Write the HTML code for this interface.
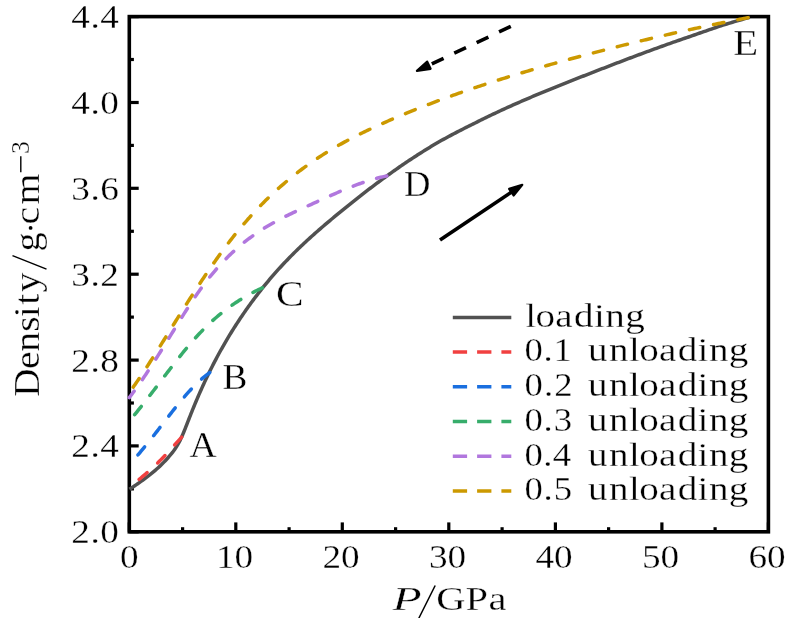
<!DOCTYPE html>
<html><head><meta charset="utf-8"><title>Density vs P</title>
<style>
html,body{margin:0;padding:0;background:#fff;}
body{width:786px;height:618px;overflow:hidden;}
svg{display:block;will-change:transform;}
text{font-family:"Liberation Serif",serif;fill:#000;stroke:#fff;stroke-width:0.3px;}
</style></head><body>
<svg width="786" height="618" viewBox="0 0 786 618">
<rect x="0" y="0" width="786" height="618" fill="#ffffff"/>
<g id="axes" stroke="#000" stroke-width="3.6" fill="none">
<rect x="129.3" y="16.6" width="639.1" height="515.2"/>
<line x1="129.3" y1="531.8" x2="138.7" y2="531.8" stroke-width="3.2"/>
<line x1="129.3" y1="488.9" x2="133.9" y2="488.9" stroke-width="3.2"/>
<line x1="129.3" y1="445.9" x2="138.7" y2="445.9" stroke-width="3.2"/>
<line x1="129.3" y1="403.0" x2="133.9" y2="403.0" stroke-width="3.2"/>
<line x1="129.3" y1="360.1" x2="138.7" y2="360.1" stroke-width="3.2"/>
<line x1="129.3" y1="317.1" x2="133.9" y2="317.1" stroke-width="3.2"/>
<line x1="129.3" y1="274.2" x2="138.7" y2="274.2" stroke-width="3.2"/>
<line x1="129.3" y1="231.3" x2="133.9" y2="231.3" stroke-width="3.2"/>
<line x1="129.3" y1="188.3" x2="138.7" y2="188.3" stroke-width="3.2"/>
<line x1="129.3" y1="145.4" x2="133.9" y2="145.4" stroke-width="3.2"/>
<line x1="129.3" y1="102.5" x2="138.7" y2="102.5" stroke-width="3.2"/>
<line x1="129.3" y1="59.5" x2="133.9" y2="59.5" stroke-width="3.2"/>
<line x1="129.3" y1="16.6" x2="138.7" y2="16.6" stroke-width="3.2"/>
<line x1="129.3" y1="531.8" x2="129.3" y2="522.4" stroke-width="3.2"/>
<line x1="182.6" y1="531.8" x2="182.6" y2="527.2" stroke-width="3.2"/>
<line x1="235.8" y1="531.8" x2="235.8" y2="522.4" stroke-width="3.2"/>
<line x1="289.1" y1="531.8" x2="289.1" y2="527.2" stroke-width="3.2"/>
<line x1="342.3" y1="531.8" x2="342.3" y2="522.4" stroke-width="3.2"/>
<line x1="395.6" y1="531.8" x2="395.6" y2="527.2" stroke-width="3.2"/>
<line x1="448.8" y1="531.8" x2="448.8" y2="522.4" stroke-width="3.2"/>
<line x1="502.1" y1="531.8" x2="502.1" y2="527.2" stroke-width="3.2"/>
<line x1="555.4" y1="531.8" x2="555.4" y2="522.4" stroke-width="3.2"/>
<line x1="608.6" y1="531.8" x2="608.6" y2="527.2" stroke-width="3.2"/>
<line x1="661.9" y1="531.8" x2="661.9" y2="522.4" stroke-width="3.2"/>
<line x1="715.1" y1="531.8" x2="715.1" y2="527.2" stroke-width="3.2"/>
<line x1="768.4" y1="531.8" x2="768.4" y2="522.4" stroke-width="3.2"/>
</g>
<g id="curves">
<path d="M129.40,489.30 L131.07,488.19 L132.73,487.08 L134.40,485.96 L136.05,484.84 L137.71,483.71 L139.36,482.58 L141.00,481.43 L142.63,480.27 L144.25,479.10 L145.86,477.91 L147.46,476.70 L149.05,475.48 L150.61,474.23 L152.17,472.97 L153.71,471.69 L155.23,470.38 L156.73,469.06 L158.21,467.71 L159.67,466.35 L161.12,464.96 L162.54,463.55 L163.94,462.12 L165.32,460.67 L166.69,459.20 L168.02,457.72 L169.34,456.21 L170.64,454.68 L171.90,453.13 L173.13,451.55 L174.32,449.94 L175.46,448.29 L176.55,446.61 L177.59,444.90 L178.58,443.16 L179.53,441.40 L180.44,439.61 L181.30,437.81 L182.12,435.98 L182.92,434.14 L183.70,432.30 L184.45,430.45 L185.20,428.59 L185.93,426.72 L186.66,424.86 L187.38,422.99 L188.10,421.12 L188.83,419.26 L189.55,417.39 L190.29,415.53 L191.02,413.67 L191.77,411.81 L192.52,409.95 L193.27,408.09 L194.03,406.24 L194.80,404.39 L195.57,402.54 L196.34,400.70 L197.13,398.86 L197.92,397.02 L198.71,395.18 L199.51,393.34 L200.32,391.51 L201.14,389.68 L201.96,387.86 L202.78,386.03 L203.62,384.21 L204.46,382.39 L205.30,380.58 L206.16,378.77 L207.02,376.96 L207.89,375.16 L208.76,373.35 L209.64,371.56 L210.53,369.76 L211.42,367.97 L212.33,366.18 L213.24,364.40 L214.15,362.62 L215.08,360.84 L216.01,359.07 L216.95,357.30 L217.90,355.54 L218.85,353.78 L219.81,352.02 L220.78,350.27 L221.76,348.52 L222.74,346.78 L223.74,345.04 L224.74,343.31 L225.74,341.58 L226.76,339.85 L227.78,338.13 L228.81,336.41 L229.85,334.70 L230.90,332.99 L231.95,331.29 L233.01,329.59 L234.08,327.90 L235.16,326.21 L236.24,324.53 L237.34,322.85 L238.43,321.18 L239.54,319.51 L240.65,317.84 L241.77,316.18 L242.90,314.53 L244.04,312.88 L245.18,311.23 L246.33,309.59 L247.48,307.96 L248.64,306.33 L249.82,304.71 L250.99,303.09 L252.18,301.47 L253.37,299.86 L254.57,298.26 L255.78,296.66 L257.00,295.07 L258.22,293.49 L259.45,291.91 L260.69,290.33 L261.93,288.77 L263.18,287.20 L264.44,285.65 L265.71,284.10 L266.99,282.55 L268.27,281.02 L269.56,279.49 L270.86,277.96 L272.16,276.44 L273.48,274.93 L274.79,273.42 L276.12,271.93 L277.46,270.43 L278.80,268.95 L280.15,267.47 L281.50,265.99 L282.87,264.53 L284.24,263.07 L285.61,261.61 L287.00,260.17 L288.39,258.73 L289.79,257.29 L291.19,255.87 L292.60,254.44 L294.02,253.03 L295.44,251.62 L296.87,250.22 L298.31,248.83 L299.75,247.44 L301.20,246.05 L302.65,244.68 L304.11,243.31 L305.58,241.94 L307.05,240.58 L308.52,239.23 L310.00,237.88 L311.49,236.54 L312.98,235.20 L314.47,233.87 L315.97,232.54 L317.48,231.22 L318.99,229.90 L320.50,228.59 L322.01,227.28 L323.53,225.98 L325.06,224.68 L326.58,223.38 L328.11,222.09 L329.64,220.80 L331.18,219.52 L332.72,218.23 L334.26,216.95 L335.80,215.68 L337.34,214.40 L338.89,213.13 L340.44,211.86 L341.99,210.59 L343.54,209.33 L345.09,208.06 L346.65,206.80 L348.21,205.55 L349.77,204.29 L351.33,203.04 L352.90,201.79 L354.46,200.55 L356.03,199.30 L357.60,198.06 L359.18,196.82 L360.76,195.59 L362.33,194.36 L363.92,193.13 L365.50,191.91 L367.09,190.69 L368.68,189.47 L370.27,188.25 L371.86,187.04 L373.46,185.84 L375.06,184.63 L376.66,183.43 L378.27,182.24 L379.88,181.04 L381.49,179.85 L383.10,178.67 L384.72,177.49 L386.34,176.31 L387.96,175.14 L389.59,173.97 L391.22,172.81 L392.85,171.65 L394.49,170.49 L396.12,169.34 L397.77,168.20 L399.41,167.05 L401.06,165.92 L402.71,164.79 L404.37,163.66 L406.02,162.54 L407.69,161.42 L409.35,160.31 L411.02,159.20 L412.69,158.10 L414.37,157.01 L416.05,155.92 L417.73,154.83 L419.42,153.75 L421.11,152.68 L422.80,151.61 L424.50,150.55 L426.20,149.50 L427.91,148.45 L429.62,147.40 L431.33,146.36 L433.04,145.34 L434.76,144.32 L436.48,143.31 L438.21,142.32 L439.93,141.33 L441.67,140.35 L443.40,139.38 L445.14,138.42 L446.88,137.47 L448.62,136.53 L450.37,135.60 L452.12,134.67 L453.87,133.75 L455.63,132.83 L457.38,131.92 L459.14,131.01 L460.91,130.11 L462.68,129.21 L464.44,128.31 L466.22,127.42 L467.99,126.52 L469.77,125.63 L471.55,124.74 L473.33,123.85 L475.12,122.96 L476.90,122.07 L478.69,121.18 L480.48,120.29 L482.28,119.40 L484.08,118.52 L485.88,117.64 L487.68,116.76 L489.48,115.89 L491.29,115.03 L493.09,114.17 L494.90,113.31 L496.71,112.46 L498.53,111.61 L500.34,110.77 L502.16,109.93 L503.98,109.09 L505.80,108.26 L507.63,107.43 L509.45,106.61 L511.28,105.79 L513.11,104.97 L514.94,104.16 L516.77,103.35 L518.60,102.54 L520.43,101.74 L522.27,100.94 L524.11,100.15 L525.95,99.35 L527.79,98.56 L529.63,97.78 L531.47,97.00 L533.32,96.22 L535.16,95.44 L537.01,94.67 L538.86,93.89 L540.70,93.13 L542.55,92.36 L544.41,91.60 L546.26,90.83 L548.11,90.08 L549.96,89.32 L551.82,88.57 L553.67,87.81 L555.53,87.06 L557.39,86.32 L559.25,85.57 L561.11,84.82 L562.96,84.08 L564.83,83.34 L566.69,82.60 L568.55,81.86 L570.41,81.13 L572.27,80.39 L574.13,79.66 L576.00,78.92 L577.86,78.19 L579.72,77.46 L581.59,76.73 L583.45,76.00 L585.32,75.27 L587.18,74.54 L589.05,73.82 L590.91,73.09 L592.78,72.36 L594.65,71.64 L596.51,70.91 L598.38,70.19 L600.25,69.46 L602.11,68.74 L603.98,68.02 L605.85,67.29 L607.72,66.57 L609.58,65.85 L611.45,65.14 L613.32,64.42 L615.19,63.70 L617.06,62.98 L618.93,62.27 L620.80,61.56 L622.67,60.84 L624.55,60.13 L626.42,59.42 L628.29,58.71 L630.16,58.01 L632.04,57.30 L633.91,56.60 L635.79,55.89 L637.66,55.19 L639.54,54.49 L641.42,53.79 L643.29,53.10 L645.17,52.40 L647.05,51.71 L648.93,51.02 L650.81,50.33 L652.69,49.64 L654.57,48.96 L656.45,48.27 L658.33,47.59 L660.22,46.91 L662.10,46.23 L663.99,45.56 L665.87,44.89 L667.76,44.21 L669.65,43.55 L671.53,42.88 L673.42,42.22 L675.31,41.55 L677.20,40.90 L679.10,40.24 L680.99,39.58 L682.88,38.93 L684.78,38.28 L686.67,37.64 L688.57,36.98 L690.46,36.33 L692.36,35.67 L694.26,35.01 L696.16,34.35 L698.06,33.69 L699.96,33.02 L701.87,32.36 L703.77,31.69 L705.68,31.03 L707.58,30.36 L709.49,29.70 L711.40,29.05 L713.31,28.39 L715.22,27.74 L717.13,27.10 L719.04,26.46 L720.96,25.83 L722.87,25.21 L724.79,24.59 L726.70,23.99 L728.62,23.39 L730.54,22.81 L732.46,22.23 L734.38,21.66 L736.31,21.10 L738.23,20.55 L740.16,20.00 L742.08,19.45 L744.01,18.91 L745.94,18.37 L747.87,17.84 L749.80,17.31" fill="none" stroke="#515151" stroke-width="3.5" stroke-linejoin="round" stroke-linecap="butt"/>
<path d="M182.90,435.89 L181.51,437.39 L180.13,438.89 L178.74,440.39 L177.36,441.89 L175.99,443.40 L174.61,444.91 L173.24,446.42 L171.88,447.94 L170.51,449.45 L169.15,450.98 L167.78,452.49 L166.40,454.00 L165.01,455.49 L163.61,456.97 L162.20,458.44 L160.77,459.90 L159.33,461.35 L157.88,462.79 L156.41,464.21 L154.93,465.61 L153.44,467.01 L151.94,468.39 L150.42,469.75 L148.89,471.11 L147.36,472.45 L145.81,473.79 L144.26,475.11 L142.70,476.43 L141.13,477.73 L139.55,479.02 L137.96,480.30 L136.36,481.57 L134.75,482.82 L133.13,484.07 L131.50,485.30" fill="none" stroke="#F14040" stroke-width="3.5" stroke-linejoin="round" stroke-dasharray="10.5 14.30" stroke-dashoffset="-1.75" stroke-linecap="round"/>
<path d="M211.30,371.59 L209.63,372.71 L207.99,373.88 L206.38,375.08 L204.80,376.33 L203.25,377.61 L201.72,378.92 L200.22,380.25 L198.74,381.61 L197.28,383.00 L195.85,384.40 L194.43,385.83 L193.02,387.27 L191.64,388.73 L190.27,390.20 L188.91,391.68 L187.56,393.17 L186.23,394.68 L184.91,396.20 L183.60,397.72 L182.30,399.26 L181.01,400.80 L179.72,402.34 L178.45,403.90 L177.18,405.46 L175.92,407.02 L174.66,408.59 L173.41,410.17 L172.16,411.75 L170.92,413.33 L169.68,414.91 L168.45,416.50 L167.21,418.09 L165.98,419.68 L164.75,421.27 L163.52,422.86 L162.30,424.45 L161.07,426.05 L159.84,427.64 L158.61,429.23 L157.38,430.82 L156.15,432.41 L154.92,434.00 L153.68,435.58 L152.44,437.17 L151.20,438.75 L149.95,440.32 L148.70,441.90 L147.44,443.47 L146.18,445.03 L144.91,446.59 L143.63,448.14 L142.34,449.69 L141.05,451.23 L139.75,452.76 L138.43,454.28 L137.11,455.80 L135.77,457.30 L134.43,458.79 L133.07,460.27 L131.69,461.74 L130.30,463.19" fill="none" stroke="#1A6FDF" stroke-width="3.5" stroke-linejoin="round" stroke-dasharray="10.5 14.30" stroke-dashoffset="-1.75" stroke-linecap="round"/>
<path d="M264.00,287.10 L262.18,287.93 L260.37,288.78 L258.56,289.65 L256.76,290.53 L254.97,291.43 L253.20,292.35 L251.42,293.29 L249.66,294.24 L247.91,295.21 L246.17,296.20 L244.44,297.21 L242.72,298.23 L241.01,299.27 L239.32,300.33 L237.63,301.41 L235.95,302.51 L234.29,303.62 L232.64,304.75 L231.00,305.90 L229.37,307.07 L227.75,308.25 L226.15,309.45 L224.56,310.66 L222.98,311.89 L221.41,313.14 L219.86,314.40 L218.32,315.68 L216.79,316.97 L215.27,318.28 L213.77,319.61 L212.28,320.94 L210.80,322.29 L209.33,323.66 L207.88,325.04 L206.44,326.43 L205.02,327.83 L203.60,329.25 L202.20,330.68 L200.81,332.12 L199.43,333.57 L198.06,335.04 L196.71,336.51 L195.37,337.99 L194.03,339.49 L192.71,340.99 L191.39,342.50 L190.09,344.02 L188.79,345.54 L187.50,347.07 L186.22,348.61 L184.94,350.16 L183.67,351.70 L182.41,353.26 L181.15,354.82 L179.90,356.38 L178.65,357.94 L177.41,359.51 L176.17,361.09 L174.94,362.66 L173.71,364.24 L172.48,365.82 L171.25,367.41 L170.03,368.99 L168.81,370.58 L167.60,372.17 L166.38,373.76 L165.17,375.35 L163.95,376.95 L162.74,378.54 L161.53,380.13 L160.32,381.73 L159.11,383.32 L157.89,384.92 L156.68,386.51 L155.47,388.10 L154.26,389.70 L153.04,391.29 L151.83,392.88 L150.61,394.47 L149.39,396.05 L148.16,397.64 L146.94,399.22 L145.71,400.80 L144.48,402.38 L143.24,403.96 L142.00,405.53 L140.76,407.10 L139.51,408.66 L138.25,410.22 L136.99,411.78 L135.73,413.33 L134.46,414.88 L133.18,416.42 L131.89,417.95 L130.60,419.48 L129.30,421.01" fill="none" stroke="#37AD6B" stroke-width="3.5" stroke-linejoin="round" stroke-dasharray="10.5 14.02" stroke-dashoffset="-1.75" stroke-linecap="round"/>
<path d="M388.50,175.60 L386.53,175.99 L384.56,176.40 L382.60,176.84 L380.64,177.30 L378.69,177.79 L376.74,178.30 L374.80,178.83 L372.87,179.39 L370.94,179.96 L369.02,180.55 L367.11,181.16 L365.20,181.79 L363.29,182.44 L361.39,183.10 L359.50,183.77 L357.61,184.46 L355.72,185.17 L353.84,185.88 L351.97,186.61 L350.10,187.35 L348.23,188.10 L346.37,188.85 L344.51,189.62 L342.66,190.40 L340.80,191.18 L338.95,191.97 L337.11,192.77 L335.26,193.57 L333.42,194.38 L331.58,195.19 L329.75,196.01 L327.91,196.83 L326.08,197.65 L324.24,198.48 L322.41,199.31 L320.58,200.14 L318.75,200.97 L316.92,201.80 L315.08,202.63 L313.25,203.46 L311.42,204.29 L309.59,205.12 L307.76,205.95 L305.92,206.78 L304.09,207.61 L302.26,208.44 L300.43,209.28 L298.61,210.12 L296.78,210.97 L294.96,211.82 L293.15,212.68 L291.33,213.55 L289.52,214.43 L287.71,215.31 L285.91,216.20 L284.12,217.11 L282.32,218.02 L280.54,218.94 L278.76,219.88 L276.99,220.83 L275.22,221.79 L273.46,222.77 L271.71,223.76 L269.97,224.76 L268.23,225.78 L266.51,226.81 L264.79,227.86 L263.08,228.92 L261.39,230.00 L259.70,231.09 L258.02,232.20 L256.36,233.33 L254.70,234.47 L253.06,235.63 L251.42,236.80 L249.80,237.99 L248.19,239.20 L246.60,240.42 L245.01,241.66 L243.44,242.92 L241.88,244.19 L240.34,245.47 L238.80,246.77 L237.28,248.09 L235.78,249.42 L234.28,250.77 L232.80,252.13 L231.34,253.51 L229.88,254.89 L228.44,256.30 L227.02,257.71 L225.60,259.14 L224.20,260.59 L222.81,262.04 L221.44,263.51 L220.07,264.99 L218.72,266.48 L217.39,267.98 L216.06,269.49 L214.75,271.02 L213.45,272.55 L212.16,274.09 L210.88,275.65 L209.62,277.21 L208.36,278.78 L207.12,280.36 L205.89,281.95 L204.67,283.55 L203.46,285.16 L202.26,286.77 L201.07,288.39 L199.89,290.02 L198.72,291.66 L197.57,293.30 L196.42,294.95 L195.28,296.61 L194.15,298.27 L193.02,299.94 L191.91,301.62 L190.80,303.29 L189.69,304.97 L188.60,306.66 L187.50,308.35 L186.42,310.04 L185.33,311.73 L184.26,313.43 L183.18,315.13 L182.11,316.83 L181.04,318.54 L179.97,320.24 L178.91,321.95 L177.85,323.66 L176.79,325.37 L175.73,327.07 L174.67,328.79 L173.62,330.50 L172.56,332.21 L171.50,333.92 L170.45,335.63 L169.39,337.34 L168.33,339.05 L167.27,340.76 L166.22,342.47 L165.16,344.18 L164.09,345.89 L163.03,347.59 L161.97,349.30 L160.90,351.01 L159.83,352.71 L158.76,354.41 L157.69,356.11 L156.61,357.81 L155.53,359.51 L154.45,361.20 L153.37,362.90 L152.28,364.59 L151.19,366.28 L150.09,367.96 L148.99,369.64 L147.88,371.32 L146.77,373.00 L145.65,374.67 L144.53,376.34 L143.41,378.01 L142.27,379.67 L141.13,381.33 L139.99,382.98 L138.83,384.63 L137.67,386.27 L136.50,387.90 L135.33,389.53 L134.14,391.16 L132.95,392.78 L131.74,394.39 L130.53,395.99 L129.30,397.58" fill="none" stroke="#B177DE" stroke-width="3.5" stroke-linejoin="round" stroke-dasharray="10.5 14.08" stroke-dashoffset="-1.75" stroke-linecap="round"/>
<path d="M749.80,17.35 L747.83,17.72 L745.86,18.10 L743.89,18.48 L741.92,18.86 L739.96,19.24 L737.99,19.62 L736.02,20.01 L734.05,20.40 L732.09,20.79 L730.12,21.18 L728.15,21.57 L726.19,21.97 L724.22,22.37 L722.26,22.77 L720.29,23.17 L718.33,23.57 L716.36,23.97 L714.40,24.38 L712.44,24.79 L710.47,25.20 L708.51,25.61 L706.55,26.02 L704.59,26.44 L702.63,26.85 L700.67,27.27 L698.71,27.69 L696.74,28.12 L694.79,28.54 L692.83,28.96 L690.87,29.39 L688.91,29.82 L686.95,30.25 L684.99,30.68 L683.03,31.12 L681.08,31.55 L679.12,31.99 L677.16,32.43 L675.21,32.87 L673.25,33.31 L671.30,33.76 L669.34,34.20 L667.39,34.65 L665.43,35.10 L663.48,35.55 L661.53,36.00 L659.57,36.46 L657.62,36.91 L655.67,37.37 L653.72,37.83 L651.76,38.29 L649.81,38.75 L647.86,39.22 L645.91,39.68 L643.96,40.15 L642.01,40.62 L640.06,41.09 L638.11,41.56 L636.17,42.04 L634.22,42.51 L632.27,42.99 L630.32,43.47 L628.38,43.95 L626.43,44.43 L624.48,44.91 L622.54,45.40 L620.59,45.88 L618.65,46.37 L616.70,46.86 L614.76,47.35 L612.82,47.84 L610.87,48.34 L608.93,48.83 L606.99,49.33 L605.05,49.83 L603.10,50.33 L601.16,50.83 L599.22,51.33 L597.28,51.84 L595.34,52.35 L593.40,52.85 L591.46,53.36 L589.52,53.87 L587.58,54.39 L585.65,54.90 L583.71,55.41 L581.77,55.93 L579.83,56.45 L577.90,56.97 L575.96,57.49 L574.02,58.01 L572.09,58.54 L570.15,59.06 L568.22,59.59 L566.29,60.12 L564.35,60.65 L562.42,61.18 L560.49,61.71 L558.55,62.25 L556.62,62.79 L554.69,63.33 L552.76,63.87 L550.83,64.41 L548.90,64.95 L546.97,65.50 L545.04,66.05 L543.11,66.60 L541.19,67.15 L539.26,67.70 L537.33,68.26 L535.41,68.82 L533.48,69.38 L531.56,69.94 L529.63,70.51 L527.71,71.07 L525.79,71.64 L523.86,72.21 L521.94,72.79 L520.02,73.36 L518.10,73.94 L516.18,74.52 L514.26,75.11 L512.35,75.69 L510.43,76.28 L508.51,76.87 L506.60,77.46 L504.68,78.06 L502.77,78.66 L500.86,79.26 L498.95,79.86 L497.03,80.47 L495.12,81.08 L493.21,81.69 L491.31,82.30 L489.40,82.92 L487.49,83.54 L485.58,84.16 L483.68,84.79 L481.78,85.42 L479.87,86.05 L477.97,86.68 L476.07,87.32 L474.17,87.96 L472.27,88.60 L470.37,89.25 L468.47,89.90 L466.58,90.55 L464.68,91.21 L462.79,91.87 L460.90,92.53 L459.01,93.19 L457.11,93.86 L455.23,94.53 L453.34,95.21 L451.45,95.89 L449.56,96.57 L447.68,97.25 L445.80,97.94 L443.91,98.63 L442.03,99.32 L440.15,100.02 L438.27,100.72 L436.40,101.43 L434.52,102.14 L432.65,102.85 L430.77,103.56 L428.90,104.28 L427.03,105.00 L425.16,105.73 L423.29,106.46 L421.43,107.19 L419.56,107.93 L417.70,108.67 L415.84,109.41 L413.98,110.16 L412.12,110.91 L410.26,111.67 L408.40,112.42 L406.55,113.19 L404.70,113.95 L402.84,114.72 L400.99,115.49 L399.15,116.27 L397.30,117.05 L395.45,117.84 L393.61,118.63 L391.77,119.42 L389.93,120.21 L388.09,121.01 L386.25,121.82 L384.42,122.63 L382.58,123.44 L380.75,124.26 L378.92,125.08 L377.10,125.91 L375.27,126.74 L373.45,127.58 L371.63,128.42 L369.82,129.27 L368.00,130.13 L366.19,130.99 L364.39,131.86 L362.58,132.74 L360.78,133.62 L358.99,134.51 L357.19,135.41 L355.41,136.31 L353.62,137.23 L351.84,138.15 L350.06,139.08 L348.29,140.01 L346.52,140.96 L344.76,141.91 L343.00,142.88 L341.25,143.85 L339.50,144.83 L337.75,145.82 L336.01,146.82 L334.28,147.83 L332.55,148.84 L330.83,149.87 L329.11,150.90 L327.40,151.95 L325.70,153.00 L324.00,154.07 L322.30,155.14 L320.62,156.22 L318.93,157.32 L317.26,158.42 L315.59,159.53 L313.93,160.65 L312.27,161.79 L310.63,162.93 L308.98,164.08 L307.35,165.24 L305.72,166.41 L304.10,167.59 L302.49,168.78 L300.88,169.98 L299.28,171.19 L297.69,172.41 L296.10,173.64 L294.53,174.88 L292.96,176.12 L291.39,177.38 L289.84,178.65 L288.29,179.92 L286.75,181.20 L285.22,182.50 L283.70,183.80 L282.18,185.11 L280.67,186.43 L279.17,187.76 L277.67,189.10 L276.19,190.44 L274.71,191.80 L273.24,193.16 L271.78,194.53 L270.32,195.91 L268.87,197.30 L267.43,198.70 L266.00,200.10 L264.58,201.51 L263.16,202.93 L261.75,204.36 L260.35,205.80 L258.96,207.24 L257.58,208.69 L256.20,210.14 L254.83,211.61 L253.47,213.08 L252.11,214.56 L250.76,216.04 L249.43,217.54 L248.09,219.03 L246.77,220.54 L245.45,222.05 L244.14,223.57 L242.84,225.09 L241.54,226.63 L240.26,228.16 L238.98,229.71 L237.70,231.25 L236.44,232.81 L235.18,234.37 L233.93,235.94 L232.68,237.51 L231.44,239.09 L230.21,240.67 L228.99,242.26 L227.77,243.85 L226.56,245.45 L225.35,247.05 L224.15,248.66 L222.96,250.27 L221.77,251.88 L220.59,253.50 L219.41,255.12 L218.24,256.75 L217.07,258.38 L215.91,260.01 L214.75,261.65 L213.59,263.29 L212.44,264.93 L211.30,266.58 L210.16,268.23 L209.02,269.88 L207.89,271.53 L206.76,273.19 L205.63,274.85 L204.51,276.51 L203.39,278.17 L202.27,279.84 L201.16,281.51 L200.05,283.18 L198.94,284.85 L197.84,286.52 L196.74,288.20 L195.64,289.88 L194.55,291.56 L193.45,293.24 L192.36,294.92 L191.27,296.60 L190.19,298.29 L189.10,299.97 L188.02,301.66 L186.94,303.35 L185.86,305.04 L184.79,306.73 L183.71,308.43 L182.64,310.12 L181.57,311.82 L180.50,313.51 L179.43,315.21 L178.36,316.91 L177.29,318.60 L176.23,320.30 L175.17,322.00 L174.10,323.70 L173.04,325.40 L171.98,327.11 L170.92,328.81 L169.86,330.51 L168.80,332.21 L167.74,333.91 L166.68,335.61 L165.61,337.31 L164.55,339.02 L163.49,340.72 L162.43,342.42 L161.36,344.12 L160.30,345.81 L159.23,347.51 L158.16,349.21 L157.09,350.91 L156.02,352.60 L154.95,354.29 L153.87,355.99 L152.80,357.68 L151.72,359.37 L150.63,361.06 L149.55,362.74 L148.46,364.43 L147.37,366.11 L146.28,367.79 L145.18,369.46 L144.07,371.14 L142.97,372.81 L141.86,374.48 L140.74,376.15 L139.62,377.81 L138.50,379.47 L137.37,381.13 L136.24,382.78 L135.10,384.43 L133.95,386.08 L132.80,387.72 L131.64,389.35 L130.47,390.99 L129.30,392.61" fill="none" stroke="#CC9900" stroke-width="3.5" stroke-linejoin="round" stroke-dasharray="10.5 14.20" stroke-dashoffset="-1.75" stroke-linecap="round"/>
</g>
<text transform="translate(71.3,543.2) scale(1.085,1)" font-size="34.3" textLength="43.8" lengthAdjust="spacing">2.0</text>
<text transform="translate(71.3,457.3) scale(1.085,1)" font-size="34.3" textLength="43.8" lengthAdjust="spacing">2.4</text>
<text transform="translate(71.3,371.5) scale(1.085,1)" font-size="34.3" textLength="43.8" lengthAdjust="spacing">2.8</text>
<text transform="translate(71.3,285.6) scale(1.085,1)" font-size="34.3" textLength="43.8" lengthAdjust="spacing">3.2</text>
<text transform="translate(71.3,199.7) scale(1.085,1)" font-size="34.3" textLength="43.8" lengthAdjust="spacing">3.6</text>
<text transform="translate(71.3,113.9) scale(1.085,1)" font-size="34.3" textLength="43.8" lengthAdjust="spacing">4.0</text>
<text transform="translate(71.3,28.0) scale(1.085,1)" font-size="34.3" textLength="43.8" lengthAdjust="spacing">4.4</text>
<text transform="translate(120.0,567.7) scale(1.085,1)" font-size="34.3" textLength="14.7" lengthAdjust="spacing">0</text>
<text transform="translate(216.0,567.7) scale(1.085,1)" font-size="34.3" textLength="34.1" lengthAdjust="spacing">10</text>
<text transform="translate(322.5,567.7) scale(1.085,1)" font-size="34.3" textLength="34.1" lengthAdjust="spacing">20</text>
<text transform="translate(429.0,567.7) scale(1.085,1)" font-size="34.3" textLength="34.1" lengthAdjust="spacing">30</text>
<text transform="translate(535.6,567.7) scale(1.085,1)" font-size="34.3" textLength="34.1" lengthAdjust="spacing">40</text>
<text transform="translate(642.1,567.7) scale(1.085,1)" font-size="34.3" textLength="34.1" lengthAdjust="spacing">50</text>
<text transform="translate(748.6,567.7) scale(1.085,1)" font-size="34.3" textLength="34.1" lengthAdjust="spacing">60</text>
<text transform="translate(189.5,457.1) scale(1.070,1)" font-size="35.2" textLength="24.3" lengthAdjust="spacing">A</text>
<text transform="translate(222.4,388.7) scale(1.060,1)" font-size="35.2" textLength="21.7" lengthAdjust="spacing">B</text>
<text transform="translate(276.0,306.2) scale(1.175,1)" font-size="35.2" textLength="21.3" lengthAdjust="spacing">C</text>
<text transform="translate(404.1,196.0) scale(1.040,1)" font-size="35.2" textLength="25.0" lengthAdjust="spacing">D</text>
<text transform="translate(733.3,54.9) scale(1.160,1)" font-size="35.2" textLength="20.3" lengthAdjust="spacing">E</text>
<line x1="452.8" y1="317.4" x2="511.3" y2="317.4" stroke="#515151" stroke-width="3.5"/>
<text transform="translate(0,327.0) scale(1.185,1)" font-size="33" x="443.22 451.88 468.64 484.44 501.32 510.86 527.59">loading</text>
<line x1="452.8" y1="352.1" x2="511.3" y2="352.1" stroke="#F14040" stroke-width="3.5" stroke-dasharray="14.3 10"/>
<text transform="translate(0,361.4) scale(1.080,1)" font-size="34" x="485.56 503.25 512.45">0.1</text>
<text transform="translate(0,361.4) scale(1.185,1)" font-size="33" x="496.27 513.86 530.71 539.35 556.09 571.86 588.71 598.23 614.93">unloading</text>
<line x1="452.8" y1="386.8" x2="511.3" y2="386.8" stroke="#1A6FDF" stroke-width="3.5" stroke-dasharray="14.3 10"/>
<text transform="translate(0,396.1) scale(1.080,1)" font-size="34" x="485.56 503.63 513.21">0.2</text>
<text transform="translate(0,396.1) scale(1.185,1)" font-size="33" x="496.27 513.86 530.71 539.35 556.09 571.86 588.71 598.23 614.93">unloading</text>
<line x1="452.8" y1="421.6" x2="511.3" y2="421.6" stroke="#37AD6B" stroke-width="3.5" stroke-dasharray="14.3 10"/>
<text transform="translate(0,430.9) scale(1.080,1)" font-size="34" x="485.56 503.36 512.66">0.3</text>
<text transform="translate(0,430.9) scale(1.185,1)" font-size="33" x="496.27 513.86 530.71 539.35 556.09 571.86 588.71 598.23 614.93">unloading</text>
<line x1="452.8" y1="456.3" x2="511.3" y2="456.3" stroke="#B177DE" stroke-width="3.5" stroke-dasharray="14.3 10"/>
<text transform="translate(0,465.6) scale(1.080,1)" font-size="34" x="485.56 502.96 511.86">0.4</text>
<text transform="translate(0,465.6) scale(1.185,1)" font-size="33" x="496.27 513.86 530.71 539.35 556.09 571.86 588.71 598.23 614.93">unloading</text>
<line x1="452.8" y1="491.0" x2="511.3" y2="491.0" stroke="#CC9900" stroke-width="3.5" stroke-dasharray="14.3 10"/>
<text transform="translate(0,500.3) scale(1.080,1)" font-size="34" x="485.56 503.36 512.66">0.5</text>
<text transform="translate(0,500.3) scale(1.185,1)" font-size="33" x="496.27 513.86 530.71 539.35 556.09 571.86 588.71 598.23 614.93">unloading</text>
<text transform="translate(392.6,609.9) scale(1.40,1)" font-size="34" font-style="italic">P</text>
<line x1="435.2" y1="585.5" x2="417.2" y2="621.5" stroke="#000" stroke-width="1.5"/>
<text transform="translate(0,609.9) scale(1.190,1)" font-size="34" x="366.67 391.10 410.42">GPa</text>
<g transform="translate(39,396.6) rotate(-90)">
<text transform="translate(0,0.0) scale(1.130,1)" font-size="35" x="-0.39 24.33 39.78 57.33 70.32 81.28 92.46">Density</text>
<line x1="127.5" y1="7.5" x2="141.0" y2="-26.5" stroke="#000" stroke-width="1.5"/>
<text transform="translate(145.0,0.0) scale(1.100,1)" font-size="35" textLength="16.8" lengthAdjust="spacing">g</text>
<circle cx="168.7" cy="-8.4" r="1.9" fill="#000"/>
<text transform="translate(0,0.0) scale(1.140,1)" font-size="35" x="151.04 168.41">cm</text>
<line x1="224.3" y1="-18.2" x2="240.3" y2="-18.2" stroke="#000" stroke-width="1.4"/>
<text transform="translate(242.5,-10.0) scale(1.050,1)" font-size="24.5" textLength="10.5" lengthAdjust="spacing">3</text>
</g>
<line x1="510.8" y1="26.4" x2="429.0" y2="65.2" stroke="#000" stroke-width="3.6" stroke-dasharray="13 11.8"/>
<polygon points="416.9,70.9 427.2,61.6 430.6,68.8" fill="#000" stroke="#000" stroke-width="2.2" stroke-linejoin="round"/>
<line x1="440.0" y1="240.0" x2="511.2" y2="192.3" stroke="#000" stroke-width="3.6"/>
<polygon points="522.3,184.8 513.6,195.5 509.1,188.9" fill="#000" stroke="#000" stroke-width="2.2" stroke-linejoin="round"/>
</svg>
</body></html>
